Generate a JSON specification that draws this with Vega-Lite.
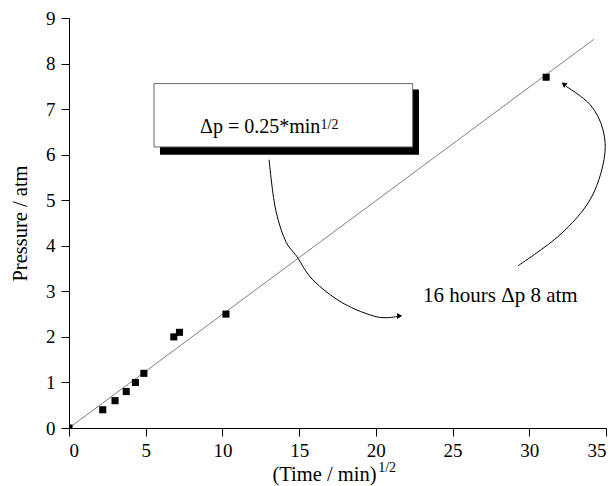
{
  "$schema": "https://vega.github.io/schema/vega-lite/v6.json",
  "width": 537,
  "height": 410,
  "autosize": {"type": "none"},
  "padding": {"left": 69, "top": 18, "right": 9, "bottom": 58},
  "background": "white",
  "config": {
    "font": "Liberation Serif",
    "view": {"stroke": null},
    "axis": {"grid": false, "domainColor": "black", "tickColor": "black", "labelColor": "black", "titleColor": "black", "labelFont": "Liberation Serif", "titleFont": "Liberation Serif", "titleFontWeight": "normal"}
  },
  "datasets": {
    "points": [
      {"t": 0, "p": 0},
      {"t": 2.2, "p": 0.4},
      {"t": 3.0, "p": 0.6},
      {"t": 3.73, "p": 0.8},
      {"t": 4.33, "p": 1.0},
      {"t": 4.88, "p": 1.2},
      {"t": 6.83, "p": 2.0},
      {"t": 7.2, "p": 2.1},
      {"t": 10.23, "p": 2.5},
      {"t": 31.1, "p": 7.7}
    ],
    "fit": [
      {"t": 0, "p": 0},
      {"t": 34.2, "p": 8.53}
    ],
    "curve1": [
      {"o": 1, "t": 13.04, "p": 5.89},
      {"o": 2, "t": 13.43, "p": 4.86},
      {"o": 3, "t": 14.08, "p": 4.13},
      {"o": 4, "t": 14.86, "p": 3.76},
      {"o": 5, "t": 15.9, "p": 3.25},
      {"o": 6, "t": 17.86, "p": 2.74},
      {"o": 7, "t": 20.07, "p": 2.44},
      {"o": 8, "t": 21.4, "p": 2.45}
    ],
    "curve2": [
      {"o": 1, "t": 29.26, "p": 3.56},
      {"o": 2, "t": 32.0, "p": 4.24},
      {"o": 3, "t": 33.96, "p": 5.01},
      {"o": 4, "t": 34.87, "p": 5.89},
      {"o": 5, "t": 34.8, "p": 6.55},
      {"o": 6, "t": 33.96, "p": 7.1},
      {"o": 7, "t": 32.4, "p": 7.5}
    ],
    "heads": [
      {"t": 21.55, "p": 2.46, "shape": "triangle-right", "angle": -3},
      {"t": 32.25, "p": 7.55, "shape": "triangle-left", "angle": 38}
    ],
    "shadow": [{"t": 5.93, "t2": 22.81, "p": 7.43, "p2": 6.0}],
    "box": [{"t": 5.54, "t2": 22.4, "p": 7.56, "p2": 6.17}],
    "boxText": [
      {"t": 8.54, "p": 6.48, "label": "Δp = 0.25*min"}
    ],
    "noteText": [
      {"t": 23.07, "p": 2.76, "label": "16 hours Δp 8 atm"}
    ],
    "supText": [
      {"t": 16.4, "p": 6.57, "label": "1/2"},
      {"t": 20.15, "p": -0.975, "label": "1/2"}
    ]
  },
  "layer": [
    {
      "data": {"name": "fit"},
      "mark": {"type": "line", "color": "#808080", "strokeWidth": 1},
      "encoding": {
        "x": {"field": "t", "type": "quantitative", "scale": {"domain": [0, 35], "nice": false},
          "axis": {"values": [0, 2.5, 5, 7.5, 10, 12.5, 15, 17.5, 20, 22.5, 25, 27.5, 30, 32.5, 35],
            "labelExpr": "datum.value % 5 === 0 ? datum.label : ''", "labelOverlap": false,
            "tickSize": {"condition": {"test": "datum.value % 5 !== 0", "value": 5}, "value": 8},
            "labelFontSize": 19, "labelPadding": 5, "title": "(Time / min)", "titleFontSize": 20.5,
            "titleX": 255, "titleAnchor": "middle", "titlePadding": 4}},
        "y": {"field": "p", "type": "quantitative", "scale": {"domain": [0, 9], "nice": false},
          "axis": {"values": [0, 0.5, 1, 1.5, 2, 2.5, 3, 3.5, 4, 4.5, 5, 5.5, 6, 6.5, 7, 7.5, 8, 8.5, 9],
            "labelExpr": "datum.value % 1 === 0 ? datum.label : ''", "labelOverlap": false,
            "tickSize": {"condition": {"test": "datum.value % 1 !== 0", "value": 4}, "value": 8},
            "labelFontSize": 19, "labelPadding": 6, "title": "Pressure / atm", "titleFontSize": 20.5,
            "titlePadding": 15}}
      }
    },
    {
      "data": {"name": "points"},
      "mark": {"type": "point", "shape": "square", "filled": true, "color": "black", "opacity": 1, "size": 50, "clip": true},
      "encoding": {"x": {"field": "t", "type": "quantitative"}, "y": {"field": "p", "type": "quantitative"}}
    },
    {
      "data": {"name": "shadow"},
      "mark": {"type": "rect", "color": "black"},
      "encoding": {"x": {"field": "t", "type": "quantitative"}, "x2": {"field": "t2"}, "y": {"field": "p", "type": "quantitative"}, "y2": {"field": "p2"}}
    },
    {
      "data": {"name": "box"},
      "mark": {"type": "rect", "fill": "white", "stroke": "#666666", "strokeWidth": 1},
      "encoding": {"x": {"field": "t", "type": "quantitative"}, "x2": {"field": "t2"}, "y": {"field": "p", "type": "quantitative"}, "y2": {"field": "p2"}}
    },
    {
      "data": {"name": "curve1"},
      "mark": {"type": "line", "color": "black", "strokeWidth": 1, "interpolate": "cardinal"},
      "encoding": {"x": {"field": "t", "type": "quantitative"}, "y": {"field": "p", "type": "quantitative"}, "order": {"field": "o"}}
    },
    {
      "data": {"name": "curve2"},
      "mark": {"type": "line", "color": "black", "strokeWidth": 1, "interpolate": "cardinal"},
      "encoding": {"x": {"field": "t", "type": "quantitative"}, "y": {"field": "p", "type": "quantitative"}, "order": {"field": "o"}}
    },
    {
      "data": {"name": "heads"},
      "mark": {"type": "point", "filled": true, "color": "black", "opacity": 1, "size": 35},
      "encoding": {"x": {"field": "t", "type": "quantitative"}, "y": {"field": "p", "type": "quantitative"},
        "shape": {"field": "shape", "type": "nominal", "scale": null},
        "angle": {"field": "angle", "type": "quantitative", "scale": null}}
    },
    {
      "data": {"name": "boxText"},
      "mark": {"type": "text", "align": "left", "baseline": "alphabetic", "fontSize": 20, "color": "black", "font": "Liberation Serif"},
      "encoding": {"x": {"field": "t", "type": "quantitative"}, "y": {"field": "p", "type": "quantitative"}, "text": {"field": "label"}}
    },
    {
      "data": {"name": "noteText"},
      "mark": {"type": "text", "align": "left", "baseline": "alphabetic", "fontSize": 21, "color": "black", "font": "Liberation Serif"},
      "encoding": {"x": {"field": "t", "type": "quantitative"}, "y": {"field": "p", "type": "quantitative"}, "text": {"field": "label"}}
    },
    {
      "data": {"name": "supText"},
      "mark": {"type": "text", "align": "left", "baseline": "alphabetic", "fontSize": 14, "color": "black", "font": "Liberation Serif"},
      "encoding": {"x": {"field": "t", "type": "quantitative"}, "y": {"field": "p", "type": "quantitative"}, "text": {"field": "label"}}
    }
  ]
}
